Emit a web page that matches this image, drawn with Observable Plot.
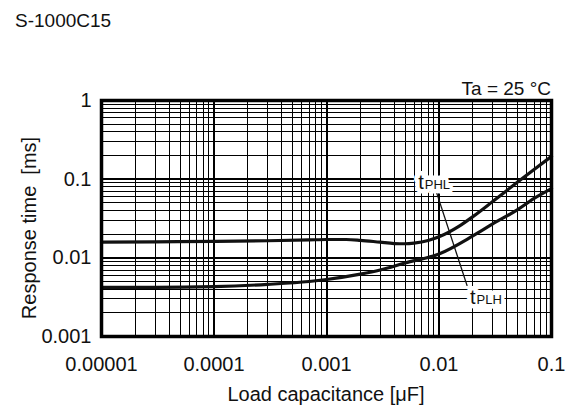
<!DOCTYPE html>
<html><head><meta charset="utf-8">
<script src="https://cdn.jsdelivr.net/npm/d3@7"></script>
<script src="https://cdn.jsdelivr.net/npm/@observablehq/plot@0.6"></script>
<style>
body{margin:0;background:#fff;}
#wrap{position:relative;width:576px;height:413px;font-family:"Liberation Sans",Arial,sans-serif;color:#111;overflow:hidden;}
#chart{position:absolute;left:0;top:0;}
.t{position:absolute;white-space:nowrap;line-height:1;}
</style></head><body>
<div id="wrap">
<div id="chart"></div>
<div class="t" style="left:15px;top:11px;font-size:19px;">S-1000C15</div>
<div class="t" style="right:25px;top:79px;font-size:19px;">Ta = 25 °C</div>
<div class="t" style="left:29px;top:228px;font-size:20px;transform:translate(-50%,-50%) rotate(-90deg);">Response time&nbsp;&nbsp;[ms]</div>
<div class="t" style="left:326px;top:384px;font-size:20px;transform:translateX(-50%);">Load capacitance [μF]</div>
</div>
<script>
// Load capacitance [uF] and response times [ms]
const capPHL = [0.00001, 0.00003, 0.0001, 0.0003, 0.0007, 0.001, 0.0015, 0.002, 0.003, 0.004, 0.005, 0.006, 0.008, 0.01, 0.015, 0.02, 0.03, 0.05, 0.07, 0.1];
const tPHL   = [0.0158, 0.0160, 0.0162, 0.0165, 0.0169, 0.0171, 0.0171, 0.0167, 0.0158, 0.0152, 0.0151, 0.0154, 0.0166, 0.0185, 0.0251, 0.0334, 0.052, 0.092, 0.133, 0.195];
const capPLH = [0.00001, 0.00003, 0.0001, 0.0003, 0.0007, 0.001, 0.002, 0.003, 0.005, 0.01, 0.02, 0.03, 0.05, 0.07, 0.1];
const tPLH   = [0.0042, 0.0042, 0.0043, 0.0046, 0.0050, 0.0053, 0.0062, 0.0070, 0.0086, 0.0112, 0.019, 0.027, 0.041, 0.057, 0.076];

const xTicks = [0.00001, 0.0001, 0.001, 0.01, 0.1];
const yTicks = [0.001, 0.01, 0.1, 1];
const minorSteps = [2, 3, 4, 5, 6, 7, 8, 9];

const labelNames = ["PHL", "PLH"];
const labelX = [0.0088, 0.0254];
const labelY = [0.093, 0.0032];
const leaderX = [0.0095, 0.0178];
const leaderY = [0.068, 0.0044];

const xMinor = xTicks.slice(0, -1).flatMap(d => minorSteps.map(m => d * m));
const yMinor = yTicks.slice(0, -1).flatMap(d => minorSteps.map(m => d * m));
const phl = capPHL.map((c, i) => ({c, t: tPHL[i]}));
const plh = capPLH.map((c, i) => ({c, t: tPLH[i]}));
const labels = labelNames.map((n, i) => ({n, x: labelX[i], y: labelY[i]}));
const leader = [{x1: leaderX[0], y1: leaderY[0], x2: leaderX[1], y2: leaderY[1]}];

const chart = Plot.plot({
  width: 576, height: 413,
  marginLeft: 101, marginRight: 25, marginTop: 100, marginBottom: 77,
  style: {fontFamily: "'Liberation Sans', Arial, sans-serif", fontSize: "20px", color: "#111", background: "white"},
  x: {type: "log", domain: [0.00001, 0.1]},
  y: {type: "log", domain: [0.001, 1]},
  marks: [
    Plot.ruleX(xMinor, {stroke: "#000", strokeWidth: 1, shapeRendering: "crispEdges"}),
    Plot.ruleY(yMinor, {stroke: "#000", strokeWidth: 1, shapeRendering: "crispEdges"}),
    Plot.ruleX(xTicks, {stroke: "#000", strokeWidth: 2, shapeRendering: "crispEdges"}),
    Plot.ruleY(yTicks, {stroke: "#000", strokeWidth: 2, shapeRendering: "crispEdges"}),
    Plot.line(phl, {x: "c", y: "t", stroke: "#111", strokeWidth: 3.2, curve: "monotone-x"}),
    Plot.line(plh, {x: "c", y: "t", stroke: "#111", strokeWidth: 3.2, curve: "monotone-x"}),
    Plot.link(leader, {x1: "x1", y1: "y1", x2: "x2", y2: "y2", stroke: "#111", strokeWidth: 1.3}),
    Plot.text(labels, {x: "x", y: "y", text: () => "t", textAnchor: "end", lineAnchor: "bottom", dx: -9, dy: 7, fontSize: 20, fill: "white", stroke: "white", strokeWidth: 9}),
    Plot.text(labels, {x: "x", y: "y", text: "n", textAnchor: "start", lineAnchor: "bottom", dx: -9, dy: 7, fontSize: 13, fill: "white", stroke: "white", strokeWidth: 9}),
    Plot.text(labels, {x: "x", y: "y", text: () => "t", textAnchor: "end", lineAnchor: "bottom", dx: -9, dy: 7, fontSize: 20, fill: "#111"}),
    Plot.text(labels, {x: "x", y: "y", text: "n", textAnchor: "start", lineAnchor: "bottom", dx: -8, dy: 7, fontSize: 13, fill: "#111"}),
    Plot.frame({stroke: "#000", strokeWidth: 3.5}),
    Plot.axisX(xTicks, {tickSize: 0, tickPadding: 20, tickFormat: d => String(d), fontSize: 20, label: null}),
    Plot.axisY(yTicks, {tickSize: 0, tickPadding: 10, tickFormat: d => String(d), fontSize: 20, label: null})
  ]
});
document.getElementById("chart").appendChild(chart);
</script>
</body></html>
